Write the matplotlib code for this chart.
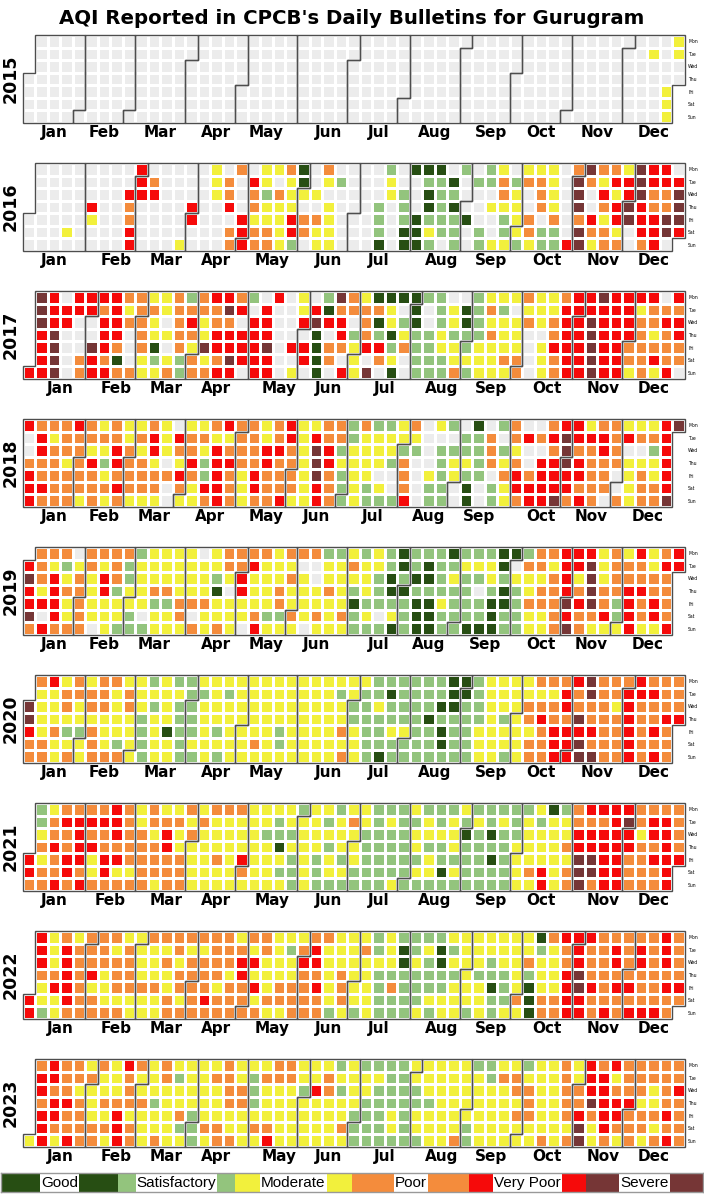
import datetime
import numpy as np
import pandas as pd
import matplotlib
matplotlib.use("Agg")
import matplotlib.pyplot as plt
from matplotlib.colors import ListedColormap, BoundaryNorm
from matplotlib.patches import Polygon, Rectangle

TITLE = "AQI Reported in CPCB's Daily Bulletins for Gurugram"
YEARS = [2015, 2016, 2017, 2018, 2019, 2020, 2021, 2022, 2023]
CATEGORIES = ["Good", "Satisfactory", "Moderate", "Poor", "Very Poor", "Severe"]
CODES = ["G", "S", "M", "P", "V", "X"]          # '.' = no bulletin, '-' = outside year
COLORS = ["#274e13", "#93c47d", "#f2f03c", "#f48c3c", "#f60a0a", "#763636"]
MISSING_COLOR = "#ececec"
DAY_LABELS = ["Mon", "Tue", "Wed", "Thu", "Fri", "Sat", "Sun"]
MONTH_LABELS = ["Jan", "Feb", "Mar", "Apr", "May", "Jun",
                "Jul", "Aug", "Sep", "Oct", "Nov", "Dec"]

# one 7-char token per calendar week column (Mon..Sun)
WEEKS_2015 = """
---.... ....... ....... ....... ....... ....... .......
....... ....... ....... ....... ....... ....... .......
....... ....... ....... ....... ....... ....... .......
....... ....... ....... ....... ....... ....... .......
....... ....... ....... ....... ....... ....... .......
....... ....... ....... ....... ....... ....... .......
....... ....... ....... ....... ....... ....... .......
....... .M..... ....MMM MM..---
""".split()

WEEKS_2016 = """
----... ....... ....... .....M. ....... ...VM.. .......
....... ..VPPVV VVV.... .PV.... ....... ......M ...VV..
....... MMM.... .PPV.PP P...VVV .VPPMPP MMSMMPP M.PMMMM
PMMMVVS GGM.PP. ..M.PMM PM.MMMM .S..... ....... .......
...SSSG SMM.... ..SSSGG G...GGG GSGGSMS GSSSSS. .GSGSSS
S...G.. .S...SS SS.M..M MPPMSSM .SMMMMS MP..PPM MPPP.SS
MMMMPSS ......V PXXXPXX XP..VPM PMVPMPP PVMVVMP MVVXX..
XXXVVVP VVPPVVV VVPPXX. .VXXXV-
""".split()

WEEKS_2017 = """
------V XXXVVVV VVVXXXX .VV.... VV...PP VV..XVV VPVVVPV
VVVVPGP PMP...P PPPPPMM MPMMGSM MM.M.MP PPPPPSS SPVPMPP
PPMMXMP VPPVVPV VXPVVXV PV.VVV. S.VVVVV .VVVXVV V......
....V.M MMV.VV. .VXGGGG SGV.PP. XPVVP.V PP.SMMM MPPPV.X
GPGSVP. GMMGSMG G.SMP.. GGGSSSS S..SSSS SSSMMSS .MMSMMP
.GGSSMS SSSSMMM MPMPMMM MSMMMPM M.MMMPP PMP.... MMM.MMM
MMPPVPP PVVVVVV VVVVVVV VVXXXXX XVVVVVV VVVVVVV VVVVPPM
VMPPPPP VPPMPVM .PVPPPV VPVVPP.
""".split()

WEEKS_2018 = """
V..PVVV PVVPPVP PMPPPPP PPPMPPP VPPPPPM PPMVPPP MPMSMPM
PPVVPVP MMPPPPM MPMPPPM PVVMPPM MMM.P.. .VPMVPM MPPVPMM
MPMSSVP PMVVVVV VMPVPPP PPPPMMM PPPPVVP MMVVPPP PPVPPPV
VVPPPPM MMMMMMM MVXXXVV PPVVPPP PPSMSSS SSMMMMM PMMMMSS
SMMM.MS SMMS..S MMSPPPV PMS.... ....MSS M.SSSSS S.SMM..
.SSMSGG GSSSS.. .PPP.SS S.SMPMM PPMPVVP .V..PVV .P.VVVV
PVPVVVX VXXXVVP VVPVVPV MVPPPPP PVVPPP. PPPP..P MV.MMMM
MP.MPPP MPSMMPP VVVVVVX X------
""".split()

WEEKS_2019 = """
-VXVVXP PPPMV.V PMVVVVP PSMPMMP .MPPPPP PPMMMM. PMVVMMM
PPPSMMS PSSMMSS SMMMM.S MMMPSMM MMMPSMM MMMMPPM MMMMP.P
.MMMPMM MMSGMMP PPM.MMM PPVVMM. PVMMMPV PMMMMSM MMMPPSM
PMPMMPM P.MMMM. P..MMPM SMMPMMM SMMMMPM MPMSGSS SMMMSMS
MMSSS.S SSGGSMG GGSGSSS SSGSGGG SGGSGGG SSSSMSS GSMSSSS
SMSSSSG SMS.SSG SMMSGGG GGSGGSS G.MSSSS SPMMPMM PPMPPMM
PMPPPPP VVVVXVX VVMPVPP VXXXXPM MMMPPVM PPPPSSM MPPVVVV
VPPVPPM MMPPVVM PVPPPPV VV-----
""".split()

WEEKS_2020 = """
--XXVPP PMMMMPP VMMMPMM MPPMSMP PPMMSMM MPPMPPP PPPMMMP
PMMMMSP MPPMMMM MMMSSSS SMSMMMM MMMMGMM SMSSSSS SSSSSMS
MSMMMMM MMMMSMS MSMMMMM MMMMMMM MMMMMPM MMMMMMM MMMMSSM
MMMMMMM MMMMMMM MMMMMMM MMMMMMM MSMMPMP MMSSMMM MSSSSSS
SSMSSSG SGSSMSS SSSSMSS SSSSSSS SSSGSSS SSGSGGS GGGSSSS
GGSSSSS SSSSMMM MMMMMMM MMMSMMS MMMMMMM MMPPMPP PMPVPPP
PMPPVVV PVVPVVV VPPXVXX XXPPVPX PPPPPPP PPMPPPP PVVVVVV
VVPPPPP PVPPVPV PPPVPPP PPPV---
""".split()

WEEKS_2021 = """
----VVP SSMPMPP MPPVPPV PVPPVVP PVVVVPV PVPVMMP PVPPVVP
VVVPVMP PPPPPMP MMPPPPP PPMPPPM MPVVPPP MPMMPPP PMPMMMM
MPMMMMM PMMMPMM PMMMMMM PMMMVPM MMMMMMM MMSMMMM MSSGMSM
MMSMSSS SMMMMMM MMMMSSS MSMSMMS SMMMSMS MPMMMSS MMSSSSS
SSSSSSS SMSSSSM SSSSSSS MSMMSMS SMMSMMS SSMSSGS SMMMSMS
MSGSSSS SMSSSSS SSGSGSS SMSSSSS SSSMMMM SMMMMPM MSMMMVV
GMMMMMM SMMPMPP PPVVXXX VPVVXXP VPVVVVV VVVVVVV VXVVPPP
PPMPPPP PVVPVPP PVVVVVV PPPPV--
""".split()

WEEKS_2022 = """
-----VV VVVPMMS MMMPVMM PVVVVVP MPPPPPP PPPVMPP PPPMMMP
PMPPPMP MPPPPMM MMMMPMM PMMMPMM PMPMMPP PPMPPMP PMPPPPP
PMPPPVP PPPPMPP PPPMPPP MPVVPPP PMVMVMP PPMMMPM MMMMPPM
MSMMPPP MPVPPPP PVVPVPP PMMMMMS MMMPPPM MMMMMMS MPMMMMM
SSMSSSS MMMSPSS SGGSSSS SSMSSSM SMSSSMS SGGSSMM MSMSMMM
MMMMMMS MMMSMMM MMSSGSS MMMSSSM MMMMMPM MMPSGGG GSMMMPP
PMMMMPP VPPVVVV VVVXXVV VPPPVPP PPPPPPV PVVPVPP PPPPVPV
PVVPPPV PPPPPPV VVVPVPP PPPPVP-
""".split()

WEEKS_2023 = """
------M PVVPVVV VVPVVPM PPPVPPV PPMPPPP MPMMMPP PMMPMPM
MMMPVVV VPPPMPP PMMPMMM MMMSMMP PPMMMMM MSMMPSM MMMMSSS
MMMMMPM MPMMMPP PPPPMMP MMPPMMM MSSSMPM MPMMMPV PPMMMMM
PPMMMMM MMSMMMM MMVMMMM MPPMMMM SMSMMPM MMMMSSS SMMSSSS
SMSSSSS SSSSMMS SSSSSSS MMSSMMS MMMSMMM MMMMMMM MMMMMMP
MMMMMSS SMMMMMM SSMMMMM MPMMMMM MPPMPMM SMPPPMM MMMMMMP
MMMMMMM PPPPPMP MMPPVXX VVVXPMM PVVVVVP VMPVVPM PPPVPPP
PPPMPPM PPMMPMP PPPPVPV PPVPPPP
""".split()

AQI_WEEKS = [WEEKS_2015, WEEKS_2016, WEEKS_2017, WEEKS_2018, WEEKS_2019,
             WEEKS_2020, WEEKS_2021, WEEKS_2022, WEEKS_2023]

LOOKUP = {".": 0}
LOOKUP.update({c: i + 1 for i, c in enumerate(CODES)})

W, H = 704, 1200
fig = plt.figure(figsize=(W / 100, H / 100), dpi=100)
fig.patch.set_facecolor("white")

cmap = ListedColormap([MISSING_COLOR] + COLORS)
norm = BoundaryNorm(np.arange(-0.5, 7.5, 1), cmap.N)

PANEL_LEFT, PANEL_W, PANEL_H = 22.7, 662.0, 88.0
NCOLS = 53
BORDER = "#4d4d4d"


def cell(weeks, c, r):
    if c < len(weeks) and r < len(weeks[c]):
        return LOOKUP.get(weeks[c][r], 0)
    return 0


for i, (year, weeks) in enumerate(zip(YEARS, AQI_WEEKS)):
    top = 35 + 128 * i
    ax = fig.add_axes([PANEL_LEFT / W, 1 - (top + PANEL_H) / H, PANEL_W / W, PANEL_H / H])
    start = datetime.date(year, 1, 1).weekday()
    grid = np.full((7, NCOLS), np.nan)
    for d in pd.date_range(f"{year}-01-01", f"{year}-12-31", freq="D"):
        c = (d.dayofyear + start - 1) // 7
        r = d.weekday()
        grid[r, c] = cell(weeks, c, r)
    ax.pcolormesh(np.arange(NCOLS + 1), np.arange(8), np.ma.masked_invalid(grid),
                  cmap=cmap, norm=norm, edgecolors="white", linewidth=0.85)
    ax.set_xlim(0, NCOLS)
    ax.set_ylim(7, 0)

    centers = []
    for m in range(1, 13):
        first = datetime.date(year, m, 1)
        last = (pd.Timestamp(first) + pd.offsets.MonthEnd(0)).date()
        x0 = (first.timetuple().tm_yday + start - 1) // 7
        x1 = (last.timetuple().tm_yday + start - 1) // 7
        r0, r1 = first.weekday(), last.weekday()
        P = [(x0, r0), (x0, 7), (x1, 7), (x1, r1 + 1), (x1 + 1, r1 + 1),
             (x1 + 1, 0), (x0 + 1, 0), (x0 + 1, r0)]
        ax.add_patch(Polygon(P, closed=True, fill=False, edgecolor=BORDER,
                             linewidth=1.0, zorder=5, clip_on=False))
        centers.append(x0 + (x1 - x0 + 1) / 2)

    ax.set_xticks(centers)
    ax.set_xticklabels(MONTH_LABELS, fontsize=11, fontweight="bold")
    ax.tick_params(axis="x", length=0, pad=1.5)
    ax.yaxis.tick_right()
    ax.set_yticks(np.arange(7) + 0.5)
    ax.set_yticklabels(DAY_LABELS, fontsize=3.3)
    ax.tick_params(axis="y", length=0, pad=2.5)
    for s in ax.spines.values():
        s.set_visible(False)
    fig.text(11 / W, 1 - (top + PANEL_H / 2) / H, str(year), rotation=90,
             fontsize=12.5, fontweight="bold", ha="center", va="center")

fig.text(0.5, 1 - 19 / H, TITLE, fontsize=14.2, fontweight="bold",
         ha="center", va="center")

# legend bar
lax = fig.add_axes([1 / W, 1 - 1192 / H, 702 / W, 19 / H])
lax.set_xlim(0, len(CATEGORIES))
lax.set_ylim(0, 1)
texts = []
for k, (name, col) in enumerate(zip(CATEGORIES, COLORS)):
    lax.add_patch(Rectangle((k, 0), 1, 1, facecolor=col, edgecolor="none", zorder=1))
    t = lax.text(k + 0.5, 0.47, name, ha="center", va="center", fontsize=11,
                 family=["Liberation Sans", "DejaVu Sans"], zorder=3)
    texts.append(t)
fig.canvas.draw()
renderer = fig.canvas.get_renderer()
inv = lax.transData.inverted()
for t in texts:
    bb = t.get_window_extent(renderer)
    (xa, _), (xb, _) = inv.transform([(bb.x0 - 1, 0), (bb.x1 + 1, 0)])
    lax.add_patch(Rectangle((xa, 0), xb - xa, 1, facecolor="white",
                            edgecolor="none", zorder=2))
lax.set_xticks([])
lax.set_yticks([])
for s in lax.spines.values():
    s.set_edgecolor("#999999")
    s.set_linewidth(1.0)

fig.savefig("out.png", dpi=100, facecolor="white")
